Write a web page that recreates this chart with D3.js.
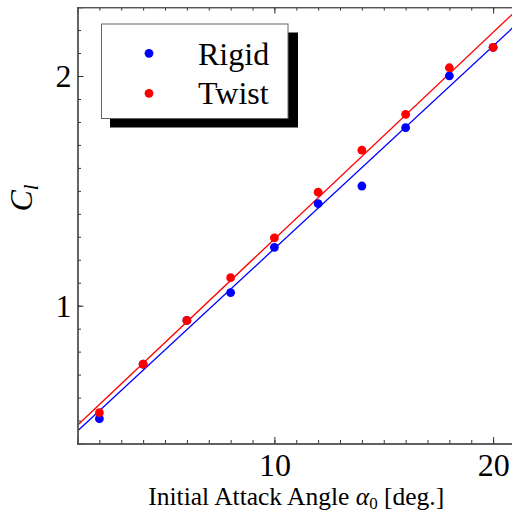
<!DOCTYPE html>
<html>
<head>
<meta charset="utf-8">
<script src="https://cdn.jsdelivr.net/npm/d3@7"></script>
<style>
  body { margin: 0; background: #fff; }
  text { font-family: "Liberation Serif", "DejaVu Serif", serif; }
</style>
</head>
<body>
<div id="chart"></div>
<script>
// data
const angles = [2, 4, 6, 8, 10, 12, 14, 16, 18, 20];
const rigid = [0.508, 0.745, 0.936, 1.057, 1.254, 1.444, 1.521, 1.775, 2.001, 2.125];
const twist = [0.534, 0.746, 0.936, 1.122, 1.295, 1.494, 1.677, 1.833, 2.036, 2.125];
const seriesNames = ["Rigid", "Twist"];
const seriesColors = ["#0000ff", "#ff0000"];
const xMajor = [10, 20];
const yMajor = [1, 2];

const W = 512, H = 513;
const x = d3.scaleLinear().domain([1, 21]).range([77.5, 515]);
const y = d3.scaleLinear().domain([0.4, 2.3]).range([443.5, 7.1]);

const svg = d3.select("#chart").append("svg")
  .attr("width", W).attr("height", H);

svg.append("defs").append("clipPath").attr("id", "clip")
  .append("rect")
  .attr("x", x(1)).attr("y", y(2.3))
  .attr("width", x(21) - x(1)).attr("height", y(0.4) - y(2.3));

// least squares fit, like the reference
function fit(xs, ys) {
  const mx = d3.mean(xs), my = d3.mean(ys);
  let sxy = 0, sxx = 0;
  xs.forEach((v, i) => { sxy += (v - mx) * (ys[i] - my); sxx += (v - mx) * (v - mx); });
  const b = sxy / sxx;
  return { a: my - b * mx, b: b };
}

const series = [rigid, twist].map((vals, i) => ({
  name: seriesNames[i],
  color: seriesColors[i],
  points: angles.map((a, j) => ({ x: a, y: vals[j] })),
  fit: fit(angles, vals)
}));

const plot = svg.append("g").attr("clip-path", "url(#clip)");

// fit lines
series.forEach(s => {
  const xs = x.domain();
  plot.append("line")
    .attr("x1", x(xs[0])).attr("y1", y(s.fit.a + s.fit.b * xs[0]))
    .attr("x2", x(xs[1])).attr("y2", y(s.fit.a + s.fit.b * xs[1]))
    .attr("stroke", s.color).attr("stroke-width", 1.3);
});

// points
series.forEach(s => {
  plot.selectAll(null).data(s.points).enter().append("circle")
    .attr("cx", d => x(d.x)).attr("cy", d => y(d.y))
    .attr("r", 4.4)
    .attr("fill", s.color);
});

// frame axes, ticks pointing inward
const frameColor = "#555";
const xMinor = d3.range(2, 21, 1);
const yMinor = d3.range(5, 23, 1).map(v => v / 10);

const axBottom = svg.append("g").attr("transform", `translate(0,${y(0.4)})`)
  .call(d3.axisBottom(x).tickValues(xMinor).tickSize(-3.5).tickFormat(""));
const axBottomMaj = svg.append("g").attr("transform", `translate(0,${y(0.4)})`)
  .call(d3.axisBottom(x).tickValues(xMajor).tickSize(-6.5).tickPadding(9.5).tickFormat(d3.format("d")));
const axTop = svg.append("g").attr("transform", `translate(0,${y(2.3)})`)
  .call(d3.axisTop(x).tickValues(xMinor).tickSize(-3.5).tickFormat(""));
const axTopMaj = svg.append("g").attr("transform", `translate(0,${y(2.3)})`)
  .call(d3.axisTop(x).tickValues(xMajor).tickSize(-6.5).tickFormat(""));
const axLeft = svg.append("g").attr("transform", `translate(${x(1)},0)`)
  .call(d3.axisLeft(y).tickValues(yMinor).tickSize(-3.5).tickFormat(""));
const axLeftMaj = svg.append("g").attr("transform", `translate(${x(1)},0)`)
  .call(d3.axisLeft(y).tickValues(yMajor).tickSize(-6).tickPadding(6).tickFormat(d3.format("d")));

[axBottom, axBottomMaj, axTop, axTopMaj, axLeft, axLeftMaj].forEach(g => {
  g.selectAll(".domain").attr("stroke", frameColor).attr("stroke-width", 1.4);
  g.selectAll(".tick line").attr("stroke", "#333").attr("stroke-width", 1);
  g.selectAll(".tick text").attr("fill", "#000")
    .style("font-family", "'Liberation Serif', serif").style("font-size", "32px");
});
axLeftMaj.selectAll(".tick text").attr("dy", "0.34em");

// axis titles
svg.append("text")
  .attr("x", (x(1) + x(21)) / 2).attr("y", 505)
  .attr("text-anchor", "middle")
  .style("font-size", "25.5px")
  .call(t => {
    t.append("tspan").text("Initial Attack Angle ");
    t.append("tspan").style("font-style", "italic").text("\u03b1");
    t.append("tspan").attr("dy", 4).style("font-size", "17px").text("0");
    t.append("tspan").attr("dy", -4).text(" [deg.]");
  });

svg.append("text")
  .attr("transform", "translate(32,198) rotate(-90)")
  .attr("text-anchor", "middle")
  .style("font-size", "32px")
  .style("font-style", "italic")
  .call(t => {
    t.append("tspan").text("C");
    t.append("tspan").attr("dy", 6).style("font-size", "21px").text("l");
  });

// legend with drop shadow
const lg = svg.append("g");
lg.append("rect").attr("x", 110).attr("y", 32.5).attr("width", 188).attr("height", 95).attr("fill", "#000");
lg.append("rect").attr("x", 101.5).attr("y", 24).attr("width", 186.5).attr("height", 94.5)
  .attr("fill", "#fff").attr("stroke", "#666").attr("stroke-width", 1);
series.forEach((s, i) => {
  lg.append("circle").attr("cx", 149).attr("cy", 53.3 + i * 40).attr("r", 4.4).attr("fill", s.color);
  lg.append("text").attr("x", 198).attr("y", 65 + i * 38.5)
    .style("font-size", "32px").text(s.name);
});
</script>
</body>
</html>
